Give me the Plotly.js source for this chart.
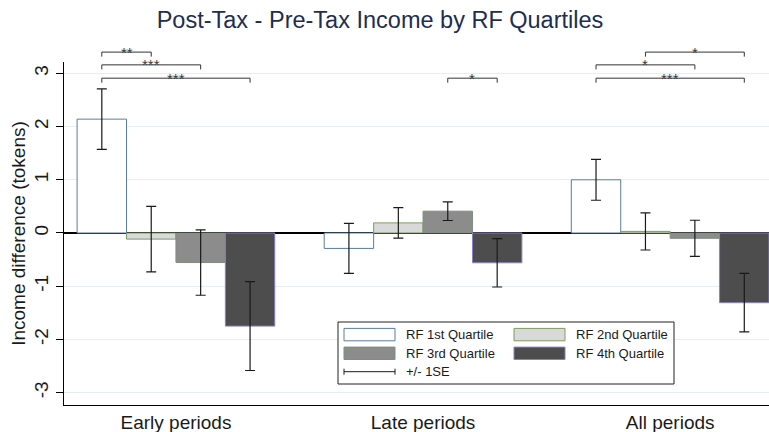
<!DOCTYPE html>
<html>
<head>
<meta charset="utf-8">
<script src="https://cdn.plot.ly/plotly-3.0.1.min.js"></script>
<style>html,body{margin:0;padding:0;background:#fff;}#chart{width:769px;height:432px;}</style>
</head>
<body>
<div id="chart"></div>
<script>
// ---- data ----
const categories = ['Early periods', 'Late periods', 'All periods'];
const seriesNames = ['RF 1st Quartile', 'RF 2nd Quartile', 'RF 3rd Quartile', 'RF 4th Quartile'];
const q1 = [2.14, -0.29, 1.00];
const q2 = [-0.115, 0.19, 0.03];
const q3 = [-0.555, 0.41, -0.10];
const q4 = [-1.75, -0.56, -1.31];
const se1 = [0.57, 0.47, 0.385];
const se2 = [0.615, 0.285, 0.35];
const se3 = [0.615, 0.175, 0.34];
const se4 = [0.835, 0.455, 0.55];
const yTickVals = [-3, -2, -1, 0, 1, 2, 3];
const yTickLabels = ['-3', '-2', '-1', '0', '1', '2', '3'];
const seLabel = '+/- 1SE';
// significance brackets: category index, from quartile, to quartile, stars, level (0 = top)
const sigGroup = [0, 0, 0, 1, 2, 2, 2];
const sigFrom = [0, 0, 0, 2, 1, 0, 0];
const sigTo = [1, 2, 3, 3, 3, 2, 3];
const sigStars = ['**', '***', '***', '*', '*', '*', '***'];
const sigLevel = [0, 1, 2, 2, 0, 1, 2];

// ---- styling / layout ----
const values = [q1, q2, q3, q4];
const errors = [se1, se2, se3, se4];
const fills = ['#ffffff', '#d9d9d9', '#8c8c8c', '#4d4d4d'];
const borders = ['#5a7c9e', '#7f9a62', '#7d8f7d', '#8a80c0'];
const FONT = 'Arial, "Liberation Sans", Helvetica, sans-serif';
const M = {l: 64, r: 0, t: 62, b: 27};
const W = 769, H = 432;
const yRange = [-3.233, 3.214];
const xRange = [-0.453, 2.40];
const bargap = 0.2;
const levelY = [3.40, 3.16, 2.91];
const tickDrop = 0.085;

const xIdx = categories.map((c, i) => i);
const traces = values.map((v, k) => ({
  type: 'bar',
  name: seriesNames[k],
  x: xIdx,
  y: v,
  marker: {color: fills[k], line: {color: borders[k], width: 1}},
  error_y: {type: 'data', array: errors[k], visible: true, color: '#1a1a1a', thickness: 1.2, width: 5},
  showlegend: false,
  hoverinfo: 'skip'
}));

const plotW = W - M.l - M.r, plotH = H - M.t - M.b;
const pyToPaper = v => (v - yRange[0]) / (yRange[1] - yRange[0]);
const pxX = px => (px - M.l) / plotW;
const pxY = py => (H - M.b - py) / plotH;
const nS = seriesNames.length;
const barW = (1 - bargap) / nS;
const barCenter = (g, q) => g - (1 - bargap) / 2 + barW * (q + 0.5);

const shapes = [];
const annotations = [];
for (let i = 0; i < sigStars.length; i++) {
  const x0 = barCenter(sigGroup[i], sigFrom[i]);
  const x1 = barCenter(sigGroup[i], sigTo[i]);
  const yt = pyToPaper(levelY[sigLevel[i]]);
  const yd = pyToPaper(levelY[sigLevel[i]] - tickDrop);
  shapes.push({type: 'path', xref: 'x', yref: 'paper',
    path: `M${x0},${yd} L${x0},${yt} L${x1},${yt} L${x1},${yd}`,
    line: {color: '#333333', width: 1}});
  annotations.push({xref: 'x', yref: 'paper', x: (x0 + x1) / 2, y: yt, yanchor: 'middle', xanchor: 'center',
    yshift: 0, showarrow: false, text: sigStars[i], font: {family: FONT, size: 15, color: '#3a3a3a'}});
}

// legend (drawn manually to mimic wide swatches)
shapes.push({type: 'rect', xref: 'paper', yref: 'paper', x0: pxX(338), x1: pxX(674), y0: pxY(384), y1: pxY(322),
  fillcolor: '#ffffff', line: {color: '#222222', width: 1}});
const colX = [344, 514];
const rowY = [334.6, 353.3, 371.7];
for (let k = 0; k < nS; k++) {
  const c = k % 2, r = Math.floor(k / 2);
  shapes.push({type: 'rect', xref: 'paper', yref: 'paper', x0: pxX(colX[c]), x1: pxX(colX[c] + 51),
    y0: pxY(rowY[r] + 6.2), y1: pxY(rowY[r] - 6.2), fillcolor: fills[k], line: {color: borders[k], width: 1}});
  annotations.push({xref: 'paper', yref: 'paper', x: pxX(colX[c] + 60), y: pxY(rowY[r]), xanchor: 'left', yanchor: 'middle',
    showarrow: false, text: seriesNames[k], font: {family: FONT, size: 13, color: '#1a1a1a'}});
}
shapes.push({type: 'path', xref: 'paper', yref: 'paper',
  path: `M${pxX(344)},${pxY(rowY[2] - 3)} L${pxX(344)},${pxY(rowY[2] + 3)} M${pxX(344)},${pxY(rowY[2])} L${pxX(395)},${pxY(rowY[2])} M${pxX(395)},${pxY(rowY[2] - 3)} L${pxX(395)},${pxY(rowY[2] + 3)}`,
  line: {color: '#1a1a1a', width: 1}});
annotations.push({xref: 'paper', yref: 'paper', x: pxX(404), y: pxY(rowY[2]), xanchor: 'left', yanchor: 'middle',
  showarrow: false, text: seLabel, font: {family: FONT, size: 13, color: '#1a1a1a'}});

const layout = {
  width: W, height: H,
  margin: M,
  paper_bgcolor: '#ffffff', plot_bgcolor: '#ffffff',
  font: {family: FONT, color: '#1a1a1a'},
  title: {text: 'Post-Tax - Pre-Tax Income by RF Quartiles', x: 380 / W, xref: 'container', xanchor: 'center',
    y: 1 - 20 / H, yref: 'container', yanchor: 'middle', font: {family: FONT, size: 23.5, color: '#1e2d50'}},
  barmode: 'group', bargap: bargap, bargroupgap: 0,
  showlegend: false,
  xaxis: {range: xRange, tickvals: xIdx, ticktext: categories, ticks: '', showline: true, linecolor: '#000000',
    linewidth: 1, showgrid: false, zeroline: false, tickfont: {family: FONT, size: 19, color: '#1a1a1a'}, fixedrange: true},
  yaxis: {range: yRange, tickvals: yTickVals, ticktext: yTickLabels, tickangle: -90, ticks: 'outside', ticklen: 7,
    tickcolor: '#000000', tickwidth: 1, showline: true, linecolor: '#000000', linewidth: 1,
    showgrid: true, gridcolor: '#e6eef0', gridwidth: 1, zeroline: true, zerolinecolor: '#000000', zerolinewidth: 1.5,
    tickfont: {family: FONT, size: 19, color: '#1a1a1a'}, automargin: true,
    title: {text: 'Income difference (tokens)', font: {family: FONT, size: 19, color: '#1a1a1a'}, standoff: 0}, fixedrange: true},
  shapes: shapes,
  annotations: annotations
};
Plotly.newPlot('chart', traces, layout, {displayModeBar: false, staticPlot: true});
</script>
</body>
</html>
